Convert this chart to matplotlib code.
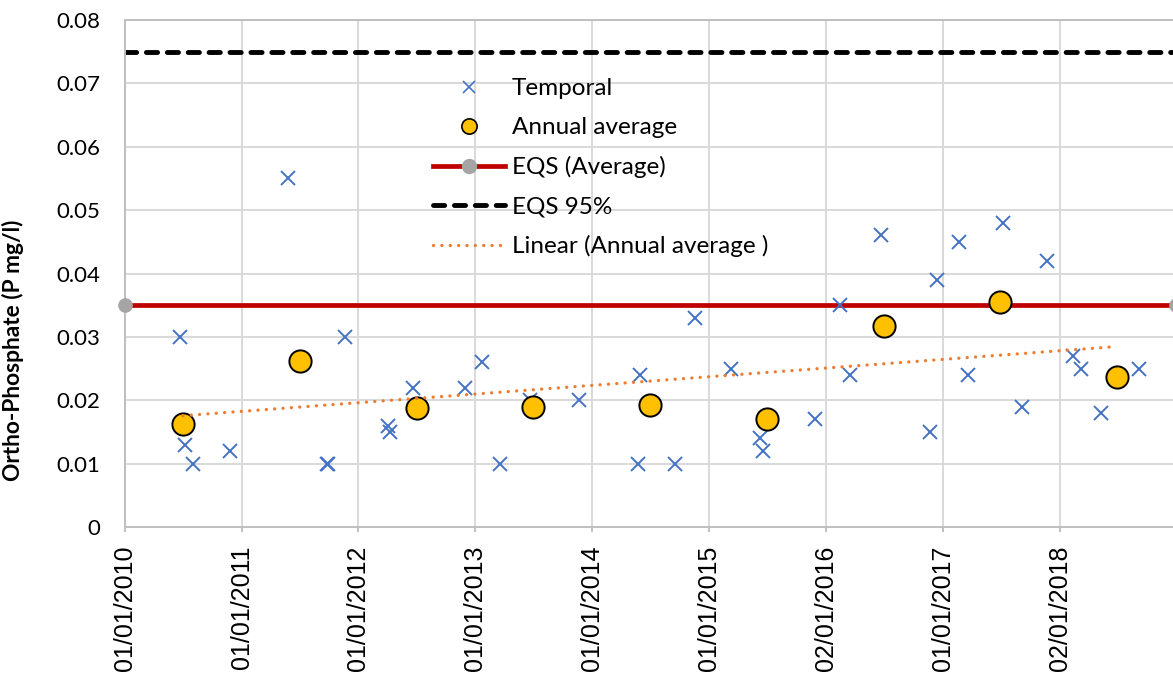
import numpy as np
import pandas as pd
import matplotlib
matplotlib.use("Agg")
import matplotlib.pyplot as plt
import matplotlib.dates as mdates
from matplotlib.lines import Line2D

# sampled values
temporal_dates = ["2010-06-21", "2010-07-09", "2010-08-03", "2010-11-25", "2011-05-26",
                  "2011-09-26", "2011-09-28", "2011-11-21", "2012-04-01", "2012-04-08",
                  "2012-06-21", "2012-11-28", "2013-01-23", "2013-03-18", "2013-06-21",
                  "2013-11-21", "2014-05-23", "2014-05-31", "2014-09-17", "2014-11-18",
                  "2015-03-11", "2015-06-10", "2015-06-18", "2015-11-28", "2016-02-14",
                  "2016-03-18", "2016-06-21", "2016-11-22", "2016-12-14", "2017-02-21",
                  "2017-03-23", "2017-07-09", "2017-09-06", "2017-11-22", "2018-02-14",
                  "2018-03-11", "2018-05-12", "2018-09-06"]
temporal_vals = [0.030, 0.013, 0.010, 0.012, 0.055,
                 0.010, 0.010, 0.030, 0.016, 0.015,
                 0.022, 0.022, 0.026, 0.010, 0.020,
                 0.020, 0.010, 0.024, 0.010, 0.033,
                 0.025, 0.014, 0.012, 0.017, 0.035,
                 0.024, 0.046, 0.015, 0.039, 0.045,
                 0.024, 0.048, 0.019, 0.042, 0.027,
                 0.025, 0.018, 0.025]

avg_dates = ["2010-07-01", "2011-07-01", "2012-07-01", "2013-07-01", "2014-07-01",
             "2015-07-01", "2016-07-01", "2017-07-01", "2018-07-01"]
avg_vals = [0.0162, 0.0262, 0.0187, 0.0190, 0.0192, 0.0170, 0.0317, 0.0355, 0.0237]

eqs_avg = 0.035
eqs_95 = 0.075
x_start, x_end = "2010-01-01", "2019-01-01"

tick_dates = ["2010-01-01", "2011-01-01", "2012-01-01", "2013-01-01", "2014-01-01",
              "2015-01-01", "2016-01-02", "2017-01-01", "2018-01-02"]
tick_labels = ["01/01/2010", "01/01/2011", "01/01/2012", "01/01/2013", "01/01/2014",
               "01/01/2015", "02/01/2016", "01/01/2017", "02/01/2018"]

td = pd.to_datetime(temporal_dates)
ad = pd.to_datetime(avg_dates)
xs, xe = pd.to_datetime(x_start), pd.to_datetime(x_end)

fig = plt.figure(figsize=(11.73, 6.75), dpi=100)
ax = fig.add_axes([125/1173, 148/675, 1051/1173, 507/675])

grid_c = "#D9D9D9"
ax.set_axisbelow(True)
ax.grid(True, color=grid_c, linewidth=1.4)

# reference lines
ax.plot([xs, xe], [eqs_95, eqs_95], color="black", linewidth=3.5,
        dashes=(2.3, 2.0), dash_capstyle="round", zorder=2)
ax.plot([xs, xe], [eqs_avg, eqs_avg], color="#C00000", linewidth=3.4, zorder=2)
ax.plot([xs, xe], [eqs_avg, eqs_avg], linestyle="none", marker="o", markersize=9.5,
        color="#A5A5A5", zorder=3, clip_on=False)

ax.plot(td, temporal_vals, linestyle="none", marker="x", markersize=10.5,
        markeredgewidth=1.4, color="#4472C4", zorder=4)
ax.plot(ad, avg_vals, linestyle="none", marker="o", markersize=16,
        markerfacecolor="#FFC000", markeredgecolor="black", markeredgewidth=1.4, zorder=5)

# linear trend of annual average
adn = mdates.date2num(ad)
coef = np.polyfit(adn, avg_vals, 1)
ax.plot(ad, np.polyval(coef, adn), color="#ED7D31", linewidth=2.4,
        dashes=(0.01, 2.5), dash_capstyle="round", zorder=6)

ax.set_xlim(xs, xe)
ax.set_ylim(0, 0.08)
ax.set_yticks(np.arange(0, 0.081, 0.01))
ax.set_yticklabels(["0", "0.01", "0.02", "0.03", "0.04", "0.05", "0.06", "0.07", "0.08"],
                   family="Lato", fontsize=16)
ax.set_xticks(pd.to_datetime(tick_dates))
ax.set_xticklabels(tick_labels, rotation=90, family="Liberation Sans", fontsize=18)
ax.tick_params(axis="x", length=3.6, color="#BFBFBF", width=1.4, pad=10)
ax.tick_params(axis="y", length=0, pad=18)

for s in ["left", "bottom", "top"]:
    ax.spines[s].set_color("#BFBFBF")
    ax.spines[s].set_linewidth(1.4)
ax.spines["right"].set_visible(False)

ax.set_ylabel("Ortho-Phosphate (P mg/l)", family="Lato", fontweight="bold", fontsize=16.4)
ax.yaxis.set_label_coords(-0.096, 0.349)

handles = [
    Line2D([], [], linestyle="none", marker="x", markersize=9, markeredgewidth=1.2, color="#4472C4"),
    Line2D([], [], linestyle="none", marker="o", markersize=11, markerfacecolor="#FFC000",
           markeredgecolor="black", markeredgewidth=1.2),
    Line2D([], [], color="#C00000", linewidth=3.4, marker="o", markersize=10,
           markerfacecolor="#A5A5A5", markeredgecolor="#A5A5A5"),
    Line2D([], [], color="black", linewidth=3.5, dashes=(2.3, 2.0), dash_capstyle="round"),
    Line2D([], [], color="#ED7D31", linewidth=2.4, dashes=(0.01, 2.5), dash_capstyle="round"),
]
labels = ["Temporal", "Annual average", "EQS (Average)", "EQS 95%", "Linear (Annual average )"]
fig.legend(handles, labels, loc="upper left", bbox_to_anchor=(433/1173, 1 - 78/675),
           frameon=False, borderpad=0, borderaxespad=0, numpoints=1,
           handlelength=2.96, handletextpad=0.29, labelspacing=0.74,
           prop={"family": "Lato", "size": 17.5})

fig.savefig("out.png", dpi=100)
